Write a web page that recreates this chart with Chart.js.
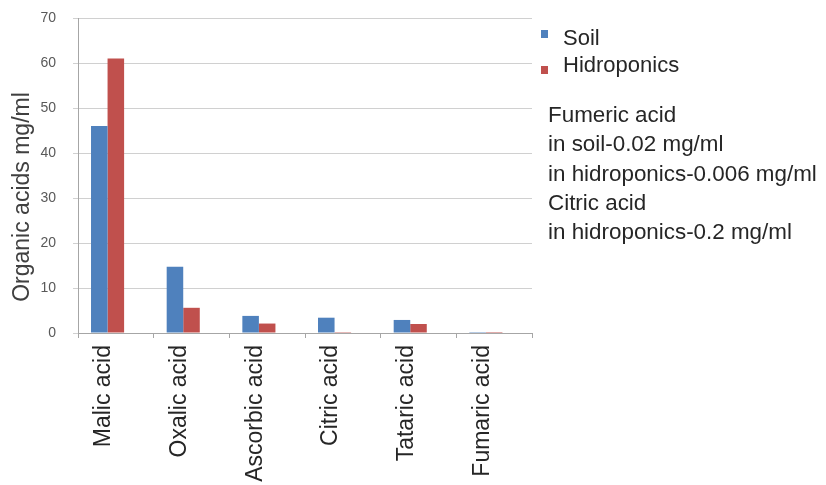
<!DOCTYPE html>
<html>
<head>
<meta charset="utf-8">
<script src="https://cdn.jsdelivr.net/npm/chart.js@4.4.1/dist/chart.umd.min.js"></script>
<style>
  html, body { margin: 0; padding: 0; background: #ffffff; }
  #wrap { width: 826px; height: 485px; }
</style>
</head>
<body>
<div id="wrap"><canvas id="chart" width="826" height="485"></canvas></div>
<script>
// Organic acid content by growing medium (mg/ml)
const categories = ['Malic acid', 'Oxalic acid', 'Ascorbic acid', 'Citric acid', 'Tataric acid', 'Fumaric acid'];
const soilValues = [46, 14.7, 3.8, 3.4, 2.9, 0.02];
const hidroponicsValues = [61, 5.6, 2.1, 0.2, 2.0, 0.006];
const yTicks = [0, 10, 20, 30, 40, 50, 60, 70];
const seriesNames = ['Soil', 'Hidroponics'];
const noteLines = [
  'Fumeric acid',
  'in soil-0.02 mg/ml',
  'in hidroponics-0.006 mg/ml',
  'Citric acid',
  'in hidroponics-0.2 mg/ml'
];
const yTitle = 'Organic acids mg/ml';

const SOIL_COLOR = '#4F81BD';
const HIDRO_COLOR = '#C0504D';
const FONT = '"Liberation Sans", Arial, sans-serif';

// Side legend plus free-text notes, and the rotated y axis title
const sidePanel = {
  id: 'sidePanel',
  afterDraw(chart) {
    const ctx = chart.ctx;
    ctx.save();
    // legend
    const colors = [SOIL_COLOR, HIDRO_COLOR];
    const textY = [39, 66];
    const boxY = [30, 66];
    ctx.font = '22px ' + FONT;
    ctx.textBaseline = 'middle';
    ctx.textAlign = 'left';
    seriesNames.forEach((name, i) => {
      ctx.fillStyle = colors[i];
      ctx.fillRect(541, boxY[i], 7, 8);
      ctx.fillStyle = '#262626';
      ctx.fillText(name, 563, textY[i]);
    });
    // notes
    ctx.font = '22.4px ' + FONT;
    noteLines.forEach((line, i) => {
      ctx.fillText(line, 548, 116 + i * 29.2);
    });
    // y axis title
    ctx.font = '23px ' + FONT;
    ctx.translate(23, 197);
    ctx.rotate(-Math.PI / 2);
    ctx.textAlign = 'center';
    ctx.fillStyle = '#404040';
    ctx.fillText(yTitle, 0, 0);
    ctx.restore();
  }
};

new Chart(document.getElementById('chart'), {
  type: 'bar',
  data: {
    labels: categories,
    datasets: [
      { label: seriesNames[0], data: soilValues, backgroundColor: SOIL_COLOR },
      { label: seriesNames[1], data: hidroponicsValues, backgroundColor: HIDRO_COLOR },
      // empty slot keeping each bar pair left of the category centre
      { label: '', data: categories.map(() => null), backgroundColor: 'rgba(0,0,0,0)' }
    ]
  },
  options: {
    responsive: false,
    animation: false,
    devicePixelRatio: 1,
    layout: { padding: { left: 0, right: 294, top: 18, bottom: 0 } },
    datasets: {
      bar: { categoryPercentage: 0.656, barPercentage: 1.0, borderWidth: 0 }
    },
    plugins: {
      legend: { display: false },
      tooltip: { enabled: false },
      title: { display: false }
    },
    scales: {
      x: {
        grid: {
          display: true,
          drawOnChartArea: false,
          drawTicks: true,
          tickLength: 5,
          color: '#a6a6a6',
          offset: true
        },
        border: { display: true, color: '#a6a6a6', width: 1 },
        ticks: {
          color: '#262626',
          font: { family: FONT, size: 23 },
          minRotation: 90,
          maxRotation: 90,
          autoSkip: false,
          padding: 7,
          labelOffset: -12
        },
        afterFit(scale) {
          scale.height = 152;
          scale.paddingLeft = 0;
          scale.paddingRight = 0;
        }
      },
      y: {
        min: 0,
        max: 70,
        afterBuildTicks(scale) { scale.ticks = yTicks.map(v => ({ value: v })); },
        grid: {
          color: '#d0d0d0',
          tickLength: 5,
          drawTicks: true
        },
        border: { display: true, color: '#a6a6a6', width: 1 },
        ticks: {
          color: '#595959',
          font: { family: FONT, size: 14 },
          padding: 17
        },
        title: { display: false },
        afterFit(scale) {
          scale.width = 78;
          scale.paddingTop = 0;
          scale.paddingBottom = 0;
        }
      }
    }
  },
  plugins: [sidePanel]
});
</script>
</body>
</html>
